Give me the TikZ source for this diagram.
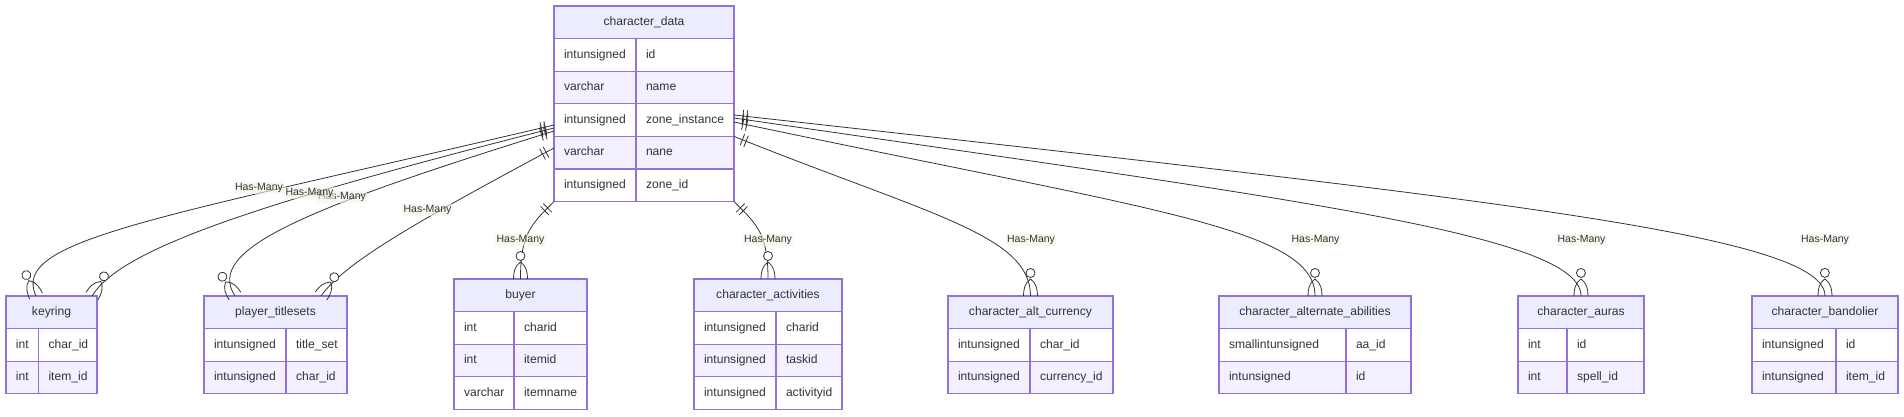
\documentclass[tikz,border=0pt]{standalone}
\usepackage{fontspec}
\setmainfont{Liberation Sans}
\usepackage{xcolor}
\usetikzlibrary{positioning, decorations.markings}

\definecolor{erline}{HTML}{9370DB}
\definecolor{erhead}{HTML}{ECECFF}
\definecolor{ereven}{HTML}{F3F1FF}
\definecolor{ertext}{HTML}{333333}
\definecolor{eredge}{HTML}{333333}
\definecolor{lblbg}{HTML}{F4F4E6}

\begin{document}
\begin{tikzpicture}[
    x=1pt, y=-1pt,
    every node/.style={text=ertext, outer sep=0pt},
    hdr/.style={draw=erline, line width=1.2pt, fill=erhead, minimum height=32.6pt, inner sep=0pt, font=\fontsize{12.1}{14}\selectfont},
    cell/.style={draw=erline, line width=1.2pt, minimum height=32.6pt, inner xsep=10pt, inner ysep=0pt, text width=#1, align=left, anchor=north west, text height=8.8pt, text depth=2.6pt, font=\fontsize{12.1}{14}\selectfont},
    odd/.style={cell=#1, fill=white},
    even/.style={cell=#1, fill=ereven},
    lbl/.style={font=\fontsize{10.5}{12}\selectfont, fill=lblbg, fill opacity=0.6, text opacity=1, inner sep=1.5pt},
    rel/.style={draw=eredge, line width=0.8pt, postaction={decorate, decoration={markings,
        mark=at position 0 with {\draw[eredge, line width=0.8pt] (9,-6) -- (9,6) (13,-6) -- (13,6);},
        mark=at position 0.9999 with {\draw[eredge, line width=0.8pt] (-17,0) .. controls (-13,6) and (-6,7) .. (0,7) (-17,0) .. controls (-13,-6) and (-6,-7) .. (0,-7);
            \draw[eredge, line width=0.8pt, fill=white] (-23,0) circle (4.5);}}}}
]
\fill[white] (0,0) rectangle (1904,416);
\useasboundingbox (0,0) rectangle (1904,416);

% Parent table
\node[hdr, minimum width=180pt] (chardata) at (644,22.3) {character\_data};
\node[odd=62pt] (cdt1) at (chardata.south west) {intunsigned}; \node[odd=78pt] (cdn1) at (cdt1.north east) {id};
\node[even=62pt] (cdt2) at (cdt1.south west) {varchar}; \node[even=78pt] (cdn2) at (cdt2.north east) {name};
\node[odd=62pt] (cdt3) at (cdt2.south west) {intunsigned}; \node[odd=78pt] (cdn3) at (cdt3.north east) {zone\_instance};
\node[even=62pt] (cdt4) at (cdt3.south west) {varchar}; \node[even=78pt] (cdn4) at (cdt4.north east) {nane};
\node[odd=62pt] (cdt5) at (cdt4.south west) {intunsigned}; \node[odd=78pt] (cdn5) at (cdt5.north east) {zone\_id};

% Child tables
\node[hdr, minimum width=91pt] (keyring) at (51.5,312.3) {keyring};
\node[odd=12.5pt] (krt1) at (keyring.south west) {int}; \node[odd=38.5pt] (krn1) at (krt1.north east) {char\_id};
\node[even=12.5pt] (krt2) at (krt1.south west) {int}; \node[even=38.5pt] (krn2) at (krt2.north east) {item\_id};

\node[hdr, minimum width=143pt] (titlesets) at (275.5,312.3) {player\_titlesets};
\node[odd=62pt] (tst1) at (titlesets.south west) {intunsigned}; \node[odd=41pt] (tsn1) at (tst1.north east) {title\_set};
\node[even=62pt] (tst2) at (tst1.south west) {intunsigned}; \node[even=41pt] (tsn2) at (tst2.north east) {char\_id};

\node[hdr, minimum width=133pt] (buyer) at (520.5,295.3) {buyer};
\node[odd=40pt] (byt1) at (buyer.south west) {int}; \node[odd=53pt] (byn1) at (byt1.north east) {charid};
\node[even=40pt] (byt2) at (byt1.south west) {int}; \node[even=53pt] (byn2) at (byt2.north east) {itemid};
\node[odd=40pt] (byt3) at (byt2.south west) {varchar}; \node[odd=53pt] (byn3) at (byt3.north east) {itemname};

\node[hdr, minimum width=148pt] (activities) at (768,295.3) {character\_activities};
\node[odd=62pt] (act1) at (activities.south west) {intunsigned}; \node[odd=46pt] (acn1) at (act1.north east) {charid};
\node[even=62pt] (act2) at (act1.south west) {intunsigned}; \node[even=46pt] (acn2) at (act2.north east) {taskid};
\node[odd=62pt] (act3) at (act2.south west) {intunsigned}; \node[odd=46pt] (acn3) at (act3.north east) {activityid};

\node[hdr, minimum width=165pt] (altcurrency) at (1030.5,312.3) {character\_alt\_currency};
\node[odd=62pt] (cut1) at (altcurrency.south west) {intunsigned}; \node[odd=63pt] (cun1) at (cut1.north east) {char\_id};
\node[even=62pt] (cut2) at (cut1.south west) {intunsigned}; \node[even=63pt] (cun2) at (cut2.north east) {currency\_id};

\node[hdr, minimum width=192pt] (altabilities) at (1315,312.3) {character\_alternate\_abilities};
\node[odd=107pt] (abt1) at (altabilities.south west) {smallintunsigned}; \node[odd=45pt] (abn1) at (abt1.north east) {aa\_id};
\node[even=107pt] (abt2) at (abt1.south west) {intunsigned}; \node[even=45pt] (abn2) at (abt2.north east) {id};

\node[hdr, minimum width=126pt] (auras) at (1581,312.3) {character\_auras};
\node[odd=29pt] (aut1) at (auras.south west) {int}; \node[odd=57pt] (aun1) at (aut1.north east) {id};
\node[even=29pt] (aut2) at (aut1.south west) {int}; \node[even=57pt] (aun2) at (aut2.north east) {spell\_id};

\node[hdr, minimum width=146pt] (bandolier) at (1825,312.3) {character\_bandolier};
\node[odd=64pt] (bdt1) at (bandolier.south west) {intunsigned}; \node[odd=42pt] (bdn1) at (bdt1.north east) {id};
\node[even=64pt] (bdt2) at (bdt1.south west) {intunsigned}; \node[even=42pt] (bdn2) at (bdt2.north east) {item\_id};

% Relations
\draw[rel] ([yshift=-4.9pt]cdt3.west) .. controls (150,220) and (10,240) .. ([xshift=-15.5pt]keyring.north);
\draw[rel] ([yshift=-7.9pt]cdt3.west) .. controls (250,205) and (120,250) .. ([xshift=-5pt]keyring.north east);
\draw[rel] ([yshift=-10.9pt]cdt3.west) .. controls (300,210) and (205,250) .. ([xshift=31pt]titlesets.north west);
\draw[rel] ([yshift=4.7pt]cdt4.west) .. controls (420,220) and (345,262) .. ([xshift=-26pt]titlesets.north east);
\draw[rel] (cdt5.south west) .. controls (530,225) and (520.5,235) .. (buyer.north);
\draw[rel] (cdn5.south east) .. controls (758,225) and (768,235) .. (activities.north);
\draw[rel] (cdn3.south east) .. controls (930,215) and (1030.5,235) .. (altcurrency.north);
\draw[rel] ([yshift=-1.9pt]cdn3.east) .. controls (1150,210) and (1315,228) .. (altabilities.north);
\draw[rel] ([yshift=2.1pt]cdn3.east) .. controls (1300,200) and (1581,235) .. (auras.north);
\draw[rel] ([yshift=5.1pt]cdn3.east) .. controls (1500,200) and (1825,235) .. (bandolier.north);

% Labels
\node[lbl] (lba) at (259,188) {Has-Many};
\node[lbl] (lbc) at (342,196.7) {Has-Many};
\node[lbl] (lbb) at (309.5,192.7) {Has-Many};
\node[lbl] (lbd) at (427.5,210) {Has-Many};
\node[lbl] (lbe) at (520.5,240) {Has-Many};
\node[lbl] (lbf) at (768,240) {Has-Many};
\node[lbl] (lbg) at (1031,240) {Has-Many};
\node[lbl] (lbh) at (1315.5,240) {Has-Many};
\node[lbl] (lbi) at (1581.5,240) {Has-Many};
\node[lbl] (lbj) at (1825,240) {Has-Many};

\end{tikzpicture}
\end{document}
